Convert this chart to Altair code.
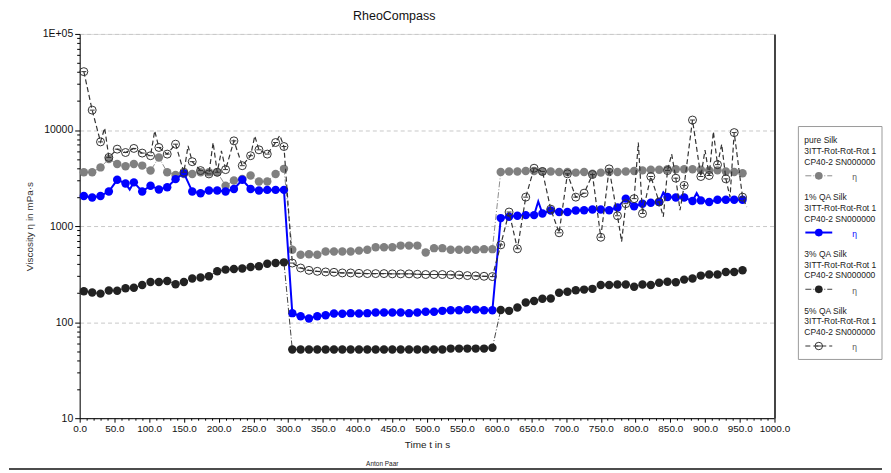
import altair as alt
import pandas as pd

# ---------------- data ----------------
time_seg1 = [6, 18, 30, 42, 54, 66, 78, 90, 102, 114, 126, 138, 150, 162, 174, 186, 198, 210, 222, 234, 246, 258, 270, 282, 294]
time_seg2 = [306, 318, 330, 342, 354, 366, 378, 390, 402, 414, 426, 438, 450, 462, 474, 486, 498, 510, 522, 534, 546, 558, 570, 582, 594]
time_seg3 = [606, 618, 630, 642, 654, 666, 678, 690, 702, 714, 726, 738, 750, 762, 774, 786, 798, 810, 822, 834,
             846, 858, 870, 882, 894, 906, 918, 930, 942, 954]
time_all = time_seg1 + time_seg2 + time_seg3

series_names = ["pure Silk", "1% QA Silk", "3% QA Silk", "5% QA Silk"]

pure_silk = [3630, 3630, 4080, 5000, 4430, 4190, 4430, 4260, 3780, 5180, 3630, 3410, 3490, 3490, 3630, 3630, 3630, 2630, 2980, 3090, 3360, 2910, 2910, 3490, 3940,
             566, 502, 510, 502, 543, 543, 543, 543, 555, 566, 602, 602, 602, 626, 626, 626, 531, 589, 589, 566, 566, 566, 566, 575, 575,
             3650, 3700, 3700, 3750, 3750, 3700, 3700, 3650, 3650, 3600, 3650, 3500, 3600, 3650, 3650, 3700, 3750, 3800, 3850, 3850,
             3900, 3900, 3900, 3900, 3850, 3800, 3800, 3700, 3650, 3550]

qa1_silk = [2060, 1980, 2060, 2290, 3030, 2780, 2850, 2290, 2630, 2400, 2530, 3080, 3550, 2290, 2200, 2350, 2350, 2290, 2430, 3030, 2430, 2350, 2380, 2380, 2380,
            124, 115, 109, 115, 118, 123, 122, 124, 123, 124, 126, 126, 126, 126, 124, 126, 128, 128, 131, 133, 133, 136, 135, 133, 133,
            1210, 1250, 1280, 1300, 1300, 1350, 1450, 1400, 1400, 1450, 1460, 1490, 1490, 1460, 1560, 1930, 1610, 1710, 1750, 1780,
            2010, 1980, 1980, 1820, 1850, 1780, 1880, 1880, 1880, 1880]
qa1_extra_t = [72, 660, 840, 888]
qa1_extra_v = [2400, 1800, 2250, 2200]

qa3_silk = [210, 203, 198, 213, 212, 225, 228, 243, 262, 262, 268, 248, 262, 285, 292, 300, 338, 352, 358, 361, 375, 382, 405, 412, 419,
            52, 52, 52, 52, 52, 52, 52, 52, 52, 52, 52, 52, 52, 52, 52, 52, 52, 52, 52, 53, 53, 53, 53, 53, 54,
            134, 131, 142, 160, 166, 175, 176, 202, 207, 215, 218, 222, 243, 243, 246, 246, 233, 246, 243, 257,
            263, 260, 277, 284, 305, 313, 313, 333, 333, 346]

qa5_silk = [40500, 16100, 7520, 5180, 6320, 5830, 6430, 5750, 5400, 6580, 5610, 7120, 3630, 4680, 3780, 3490, 3630, 3870, 7710, 4250, 5400, 6220, 5610, 7410, 6730,
            412, 366, 346, 338, 333, 330, 325, 325, 322, 320, 320, 320, 318, 318, 318, 315, 313, 313, 313, 311, 309, 305, 303, 300, 298,
            637, 1400, 580, 2000, 4000, 3700, 1500, 851, 3500, 2000, 2200, 3440, 764, 3940, 1280, 1710, 1930, 1350, 3280, 1780,
            3780, 3150, 2650, 12700, 3280, 3360, 4360, 3100, 9400, 2000]
qa5_extra_t = [36, 108, 156, 192, 204, 252, 288, 780, 804, 840, 852, 864, 900, 912, 924, 936, 960]
qa5_extra_v = [10500, 9800, 6840, 7400, 6080, 8670, 8800, 690, 7400, 1250, 5610, 1460, 6170, 9620, 7110, 2000, 1580]

legend_line2 = "3ITT-Rot-Rot-Rot 1"
legend_line3 = "CP40-2 SN000000"

x_major = [0, 50, 100, 150, 200, 250, 300, 350, 400, 450, 500, 550, 600, 650, 700, 750, 800, 850, 900, 950, 1000]
x_minor = [10, 20, 30, 40, 60, 70, 80, 90, 110, 120, 130, 140, 160, 170, 180, 190, 210, 220, 230, 240,
           260, 270, 280, 290, 310, 320, 330, 340, 360, 370, 380, 390, 410, 420, 430, 440, 460, 470, 480, 490,
           510, 520, 530, 540, 560, 570, 580, 590, 610, 620, 630, 640, 660, 670, 680, 690, 710, 720, 730, 740,
           760, 770, 780, 790, 810, 820, 830, 840, 860, 870, 880, 890, 910, 920, 930, 940, 960, 970, 980, 990]
y_major = [10, 100, 1000, 10000, 100000]
y_minor = [20, 30, 40, 50, 60, 70, 80, 90, 200, 300, 400, 500, 600, 700, 800, 900,
           2000, 3000, 4000, 5000, 6000, 7000, 8000, 9000, 20000, 30000, 40000, 50000, 60000, 70000, 80000, 90000]

# ---------------- tables ----------------
rows = []
main_vals = [pure_silk, qa1_silk, qa3_silk, qa5_silk]
extras = [([], []), (qa1_extra_t, qa1_extra_v), ([], []), (qa5_extra_t, qa5_extra_v)]
for name, vals, (et, ev) in zip(series_names, main_vals, extras):
    for t, v in zip(time_all, vals):
        rows.append({"t": t, "v": v, "series": name, "marker": 1})
    for t, v in zip(et, ev):
        rows.append({"t": t, "v": v, "series": name, "marker": 0})
df = pd.DataFrame(rows)

FONT = "Liberation Sans"
W, H = 698, 386

xs = alt.Scale(domain=[0, 1000], nice=False, zero=False)
ys = alt.Scale(type="log", domain=[10, 100000], nice=False)

ax_x_main = alt.Axis(values=x_major, format=".1f", title="Time  t  in s", tickSize=4, labelPadding=1,
                     labelFontSize=10, labelColor="#111", labelFont=FONT, titleFont=FONT, titleFontSize=10,
                     titleFontWeight="normal", titleColor="#222", titlePadding=6, domainColor="#000",
                     tickColor="#000", grid=False, labelOverlap=False, labelFlush=False, orient="bottom")
ax_x_minor = alt.Axis(values=x_minor, labels=False, title=None, tickSize=2, domain=False,
                      tickColor="#000", grid=False, orient="bottom")
ax_y_main = alt.Axis(values=y_major, labelExpr="datum.value >= 100000 ? '1E+05' : format(datum.value, 'd')",
                     title="Viscosity  η  in mPa·s", tickSize=5, labelPadding=2, labelFontSize=10.5,
                     labelColor="#111", labelFont=FONT, titleFont=FONT, titleFontSize=10,
                     titleFontWeight="normal", titleColor="#333", titlePadding=8, domainColor="#000",
                     tickColor="#000", grid=True, gridColor="#c8c8c8", gridDash=[4, 3], labelFlush=False,
                     orient="left")
ax_y_minor = alt.Axis(values=y_minor, labels=False, title=None, tickSize=3, domain=False,
                      tickColor="#000", grid=False, orient="left")
ax_y_right = alt.Axis(labels=False, ticks=False, title=None, domainColor="#444", domainWidth=2,
                      grid=False, orient="right")


def enc(xaxis=None, yaxis=None):
    return dict(x=alt.X("t:Q", scale=xs, axis=xaxis), y=alt.Y("v:Q", scale=ys, axis=yaxis))


def series_line(name, color, width, dash=None, xaxis=None, yaxis=None):
    kw = dict(color=color, strokeWidth=width)
    if dash is not None:
        kw["strokeDash"] = dash
    return alt.Chart(df).transform_filter(alt.datum.series == name).mark_line(**kw).encode(**enc(xaxis, yaxis))


def series_points(name, **kw):
    return (alt.Chart(df).transform_filter((alt.datum.series == name) & (alt.datum.marker == 1))
            .mark_point(**kw).encode(**enc()))


pure_line = series_line("pure Silk", "#8c8c8c", 1, [6, 2, 1, 2], ax_x_main, ax_y_main)
pure_pts = (alt.Chart(df).transform_filter((alt.datum.series == "pure Silk") & (alt.datum.marker == 1))
            .mark_point(filled=True, color="#808080", size=72, opacity=1).encode(**enc(ax_x_minor, ax_y_minor)))
blue_line = series_line("1% QA Silk", "#0000ff", 2, None, None, ax_y_right)
blue_pts = series_points("1% QA Silk", filled=True, color="#0000ff", size=72, opacity=1)
blk_line = series_line("3% QA Silk", "#444444", 1, [6, 2, 1, 2])
blk_pts = series_points("3% QA Silk", filled=True, color="#222222", size=72, opacity=1)
q5_line = series_line("5% QA Silk", "#333333", 1.2, [5, 3])
q5_pts = series_points("5% QA Silk", filled=False, color="#333333", size=64, strokeWidth=1, opacity=1)
q5_bar = series_points("5% QA Silk", shape="stroke", color="#333333", size=25, strokeWidth=1, opacity=1)

# ---------------- legend (drawn outside the plot area) ----------------
LX0, LY0 = 648, 107
box = pd.DataFrame([{"x1": LX0 + 74, "x2": LX0 + 158, "y1": 93, "y2": 327}])
legend_box = alt.Chart(box).mark_rect(fill="white", stroke="#9a9a9a", strokeWidth=1).encode(
    x=alt.X("x1:Q", scale=None, axis=None), x2="x2:Q",
    y=alt.Y("y1:Q", scale=None, axis=None), y2="y2:Q")

leg_rows, sym_rows = [], []
for k, name in enumerate(series_names):
    top = LY0 + 57 * k
    for j, txt in enumerate([name, legend_line2, legend_line3]):
        leg_rows.append({"lx": LX0 + 80, "ly": top + 10.8 * j, "text": txt, "col": "#222222"})
    leg_rows.append({"lx": LX0 + 128, "ly": top + 37, "text": "η", "col": "#0000ff" if k == 1 else "#555555"})
    sym_rows.append({"series": name, "x1": LX0 + 81, "x2": LX0 + 108, "xm": LX0 + 94.5, "y": top + 35.5})
leg_df = pd.DataFrame(leg_rows)
sym_df = pd.DataFrame(sym_rows)

legend_text = alt.Chart(leg_df).mark_text(align="left", baseline="middle", font=FONT, fontSize=8.5).encode(
    x=alt.X("lx:Q", scale=None, axis=None), y=alt.Y("ly:Q", scale=None, axis=None),
    text="text:N", color=alt.Color("col:N", scale=None, legend=None))


def leg_rule(name, color, width, dash=None):
    kw = dict(color=color, strokeWidth=width)
    if dash is not None:
        kw["strokeDash"] = dash
    return alt.Chart(sym_df).transform_filter(alt.datum.series == name).mark_rule(**kw).encode(
        x=alt.X("x1:Q", scale=None, axis=None), x2="x2:Q", y=alt.Y("y:Q", scale=None, axis=None))


def leg_pt(name, **kw):
    return alt.Chart(sym_df).transform_filter(alt.datum.series == name).mark_point(**kw).encode(
        x=alt.X("xm:Q", scale=None, axis=None), y=alt.Y("y:Q", scale=None, axis=None))


legend_layers = [
    legend_box, legend_text,
    leg_rule("pure Silk", "#8c8c8c", 1, [6, 2, 1, 2]), leg_pt("pure Silk", filled=True, color="#808080", size=60, opacity=1),
    leg_rule("1% QA Silk", "#0000ff", 2), leg_pt("1% QA Silk", filled=True, color="#0000ff", size=60, opacity=1),
    leg_rule("3% QA Silk", "#444444", 1, [6, 2, 1, 2]), leg_pt("3% QA Silk", filled=True, color="#222222", size=60, opacity=1),
    leg_rule("5% QA Silk", "#333333", 1.2, [5, 3]), leg_pt("5% QA Silk", filled=False, color="#333333", size=56, strokeWidth=1, opacity=1),
    leg_pt("5% QA Silk", shape="stroke", color="#333333", size=25, strokeWidth=1, opacity=1),
]

# footer
foot = pd.DataFrame([{"x1": -71, "x2": 806, "y": 437, "fx": 304, "fy": 432, "label": "Anton Paar"}])
footer_text = alt.Chart(foot).mark_text(font=FONT, fontSize=6.5, color="#222", baseline="middle").encode(
    x=alt.X("fx:Q", scale=None, axis=None), y=alt.Y("fy:Q", scale=None, axis=None), text="label:N")
footer_rule = alt.Chart(foot).mark_rule(color="#111", strokeWidth=1.5).encode(
    x=alt.X("x1:Q", scale=None, axis=None), x2="x2:Q", y=alt.Y("y:Q", scale=None, axis=None))

chart = alt.layer(
    pure_line, pure_pts, blue_line, blue_pts, blk_line, blk_pts, q5_line, q5_pts, q5_bar,
    *legend_layers, footer_text, footer_rule
).resolve_axis(x="independent", y="independent").properties(
    width=W, height=H,
    padding={"left": 0, "top": 0, "right": 0, "bottom": 0},
    title=alt.TitleParams("RheoCompass", font=FONT, fontSize=12.5, fontWeight="normal", color="#111",
                          anchor="middle", offset=7, dx=-33),
).configure_view(stroke="#999999", strokeWidth=1).configure(background="white")

chart.save("out.html", embed_options={"renderer": "svg", "actions": False})
